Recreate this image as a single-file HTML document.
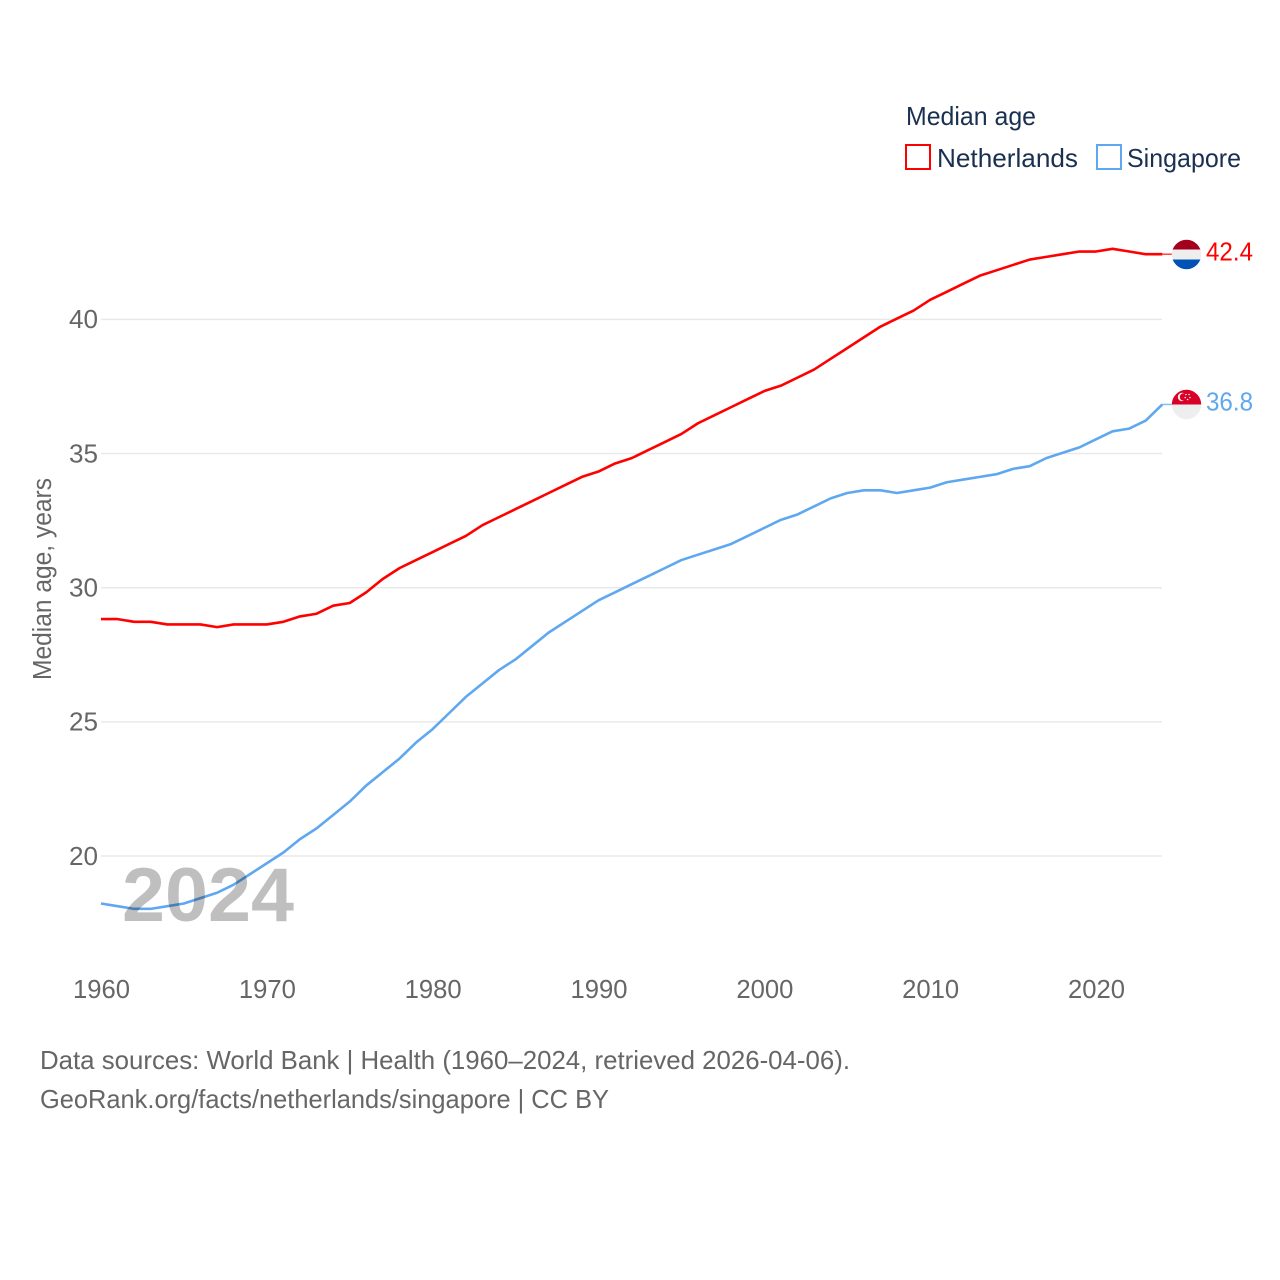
<!DOCTYPE html>
<html lang="en">
<head>
<meta charset="utf-8">
<title>Median age: Netherlands and Singapore</title>
<style>
html,body{margin:0;padding:0;background:#fff;}
svg{display:block;font-family:"Liberation Sans",sans-serif;}
</style>
</head>
<body>
<svg id="chart" xmlns="http://www.w3.org/2000/svg" width="1280" height="1280" viewBox="0 0 1280 1280">
  <rect width="1280" height="1280" fill="#fff"/>
  <g id="grid"></g>
  <g id="yTicks"></g>
  <g id="xTicks"></g>
  <text transform="translate(51,680) rotate(-90)" font-size="25.5" fill="#666" textLength="202" lengthAdjust="spacingAndGlyphs">Median age, years</text>
  <g id="series"></g>
  <text x="122" y="921" font-size="76" font-weight="bold" fill="#000" fill-opacity="0.25" textLength="172" lengthAdjust="spacingAndGlyphs">2024</text>

  <g>
    <text x="906" y="125" font-size="26" fill="#1a3050" textLength="130" lengthAdjust="spacingAndGlyphs">Median age</text>
    <g>
      <rect x="906" y="145" width="24" height="24" fill="none" stroke="#ff0000" stroke-width="2"/>
      <text x="937" y="167" font-size="26" fill="#1a3050" textLength="141" lengthAdjust="spacingAndGlyphs">Netherlands</text>
    </g>
    <g>
      <rect x="1097" y="145" width="24" height="24" fill="none" stroke="#5fa8f0" stroke-width="2"/>
      <text x="1127" y="167" font-size="26" fill="#1a3050" textLength="114" lengthAdjust="spacingAndGlyphs">Singapore</text>
    </g>
  </g>

  <defs>
    <clipPath id="flagClipNl"><circle cx="1186.5" cy="254.5" r="14.7"/></clipPath>
    <clipPath id="flagClipSg"><circle cx="1186.5" cy="404.5" r="14.7"/></clipPath>
  </defs>
  <g clip-path="url(#flagClipNl)">
    <rect x="1171" y="239" width="31" height="11" fill="#a2001d"/>
    <rect x="1171" y="249.5" width="31" height="10" fill="#eeeeee"/>
    <rect x="1171" y="259.5" width="31" height="11" fill="#0052b4"/>
  </g>
  <g clip-path="url(#flagClipSg)">
    <rect x="1171" y="389" width="31" height="15.5" fill="#d80027"/>
    <rect x="1171" y="404.5" width="31" height="16" fill="#eeeeee"/>
    <circle cx="1182" cy="397" r="4.2" fill="#eee"/>
    <circle cx="1183.6" cy="397" r="3.8" fill="#d80027"/>
    <circle cx="1186" cy="394.5" r="0.8" fill="#eee"/>
    <circle cx="1189" cy="394.5" r="0.8" fill="#eee"/>
    <circle cx="1190" cy="397.5" r="0.8" fill="#eee"/>
    <circle cx="1185.2" cy="397.5" r="0.8" fill="#eee"/>
    <circle cx="1187.6" cy="399.5" r="0.8" fill="#eee"/>
  </g>

  <text x="1206" y="260.5" font-size="26" fill="#ff0000" textLength="47" lengthAdjust="spacingAndGlyphs">42.4</text>
  <text x="1206" y="410.5" font-size="26" fill="#5fa8f0" textLength="47" lengthAdjust="spacingAndGlyphs">36.8</text>

  <text x="40" y="1069" font-size="26" fill="#666" textLength="810" lengthAdjust="spacingAndGlyphs">Data sources: World Bank | Health (1960–2024, retrieved 2026-04-06).</text>
  <text x="40" y="1108" font-size="26" fill="#666" textLength="569" lengthAdjust="spacingAndGlyphs">GeoRank.org/facts/netherlands/singapore | CC BY</text>
</svg>
<script>
var years = [1960,1961,1962,1963,1964,1965,1966,1967,1968,1969,1970,1971,1972,1973,1974,1975,1976,1977,1978,1979,1980,1981,1982,1983,1984,1985,1986,1987,1988,1989,1990,1991,1992,1993,1994,1995,1996,1997,1998,1999,2000,2001,2002,2003,2004,2005,2006,2007,2008,2009,2010,2011,2012,2013,2014,2015,2016,2017,2018,2019,2020,2021,2022,2023,2024];
var netherlands = [28.8,28.8,28.7,28.7,28.6,28.6,28.6,28.5,28.6,28.6,28.6,28.7,28.9,29.0,29.3,29.4,29.8,30.3,30.7,31.0,31.3,31.6,31.9,32.3,32.6,32.9,33.2,33.5,33.8,34.1,34.3,34.6,34.8,35.1,35.4,35.7,36.1,36.4,36.7,37.0,37.3,37.5,37.8,38.1,38.5,38.9,39.3,39.7,40.0,40.3,40.7,41.0,41.3,41.6,41.8,42.0,42.2,42.3,42.4,42.5,42.5,42.6,42.5,42.4,42.4];
var singapore = [18.2,18.1,18.0,18.0,18.1,18.2,18.4,18.6,18.9,19.3,19.7,20.1,20.6,21.0,21.5,22.0,22.6,23.1,23.6,24.2,24.7,25.3,25.9,26.4,26.9,27.3,27.8,28.3,28.7,29.1,29.5,29.8,30.1,30.4,30.7,31.0,31.2,31.4,31.6,31.9,32.2,32.5,32.7,33.0,33.3,33.5,33.6,33.6,33.5,33.6,33.7,33.9,34.0,34.1,34.2,34.4,34.5,34.8,35.0,35.2,35.5,35.8,35.9,36.2,36.8];
var yTickValues = [20,25,30,35,40];
var xTickValues = [1960,1970,1980,1990,2000,2010,2020];

var NS = 'http://www.w3.org/2000/svg';
function xScale(year){ return 101 + (year - 1960) * (1096 - 101) / 60; }
function yScale(v){ return 319.4 + (40 - v) * 26.83; }
function make(tag, attrs, parent){
  var el = document.createElementNS(NS, tag);
  for (var k in attrs) { el.setAttribute(k, attrs[k]); }
  parent.appendChild(el);
  return el;
}
var gridG = document.getElementById('grid');
var yG = document.getElementById('yTicks');
var xG = document.getElementById('xTicks');
var seriesG = document.getElementById('series');
seriesG.setAttribute('transform', 'translate(0,-0.8)');

yTickValues.forEach(function(v){
  var line = make('line', {x1:101, x2:1162, y1:yScale(v), y2:yScale(v), stroke:'#e9e9e9', 'stroke-width':1.5}, gridG);
  
  
  var t = make('text', {x:98, y:yScale(v)+8.8, 'text-anchor':'end', 'font-size':26, fill:'#666', textLength:29, lengthAdjust:'spacingAndGlyphs'}, yG);
  t.textContent = String(v);
  
  
});
xTickValues.forEach(function(v){
  var t = make('text', {x:xScale(v)-28, y:998, 'font-size':26, fill:'#666', textLength:57, lengthAdjust:'spacingAndGlyphs'}, xG);
  t.textContent = String(v);
  
  
});
function drawSeries(name, values, color){
  var pts = values.map(function(v, i){ return xScale(years[i]).toFixed(2) + ',' + yScale(v).toFixed(2); }).join(' ');
  var line = make('polyline', {points:pts, fill:'none', stroke:color, 'stroke-width':2.6, 'stroke-linejoin':'round'}, seriesG);
  
  
  var lastYear = years[years.length - 1];
  var lastValue = values[values.length - 1];
  var lead = make('line', {x1:xScale(lastYear), x2:xScale(lastYear)+10, y1:yScale(lastValue), y2:yScale(lastValue), stroke:color, 'stroke-width':1.5, 'stroke-opacity':0.75}, seriesG);
  
  
}
drawSeries('netherlands', netherlands, '#ff0000');
drawSeries('singapore', singapore, '#5fa8f0');
</script>
</body>
</html>
